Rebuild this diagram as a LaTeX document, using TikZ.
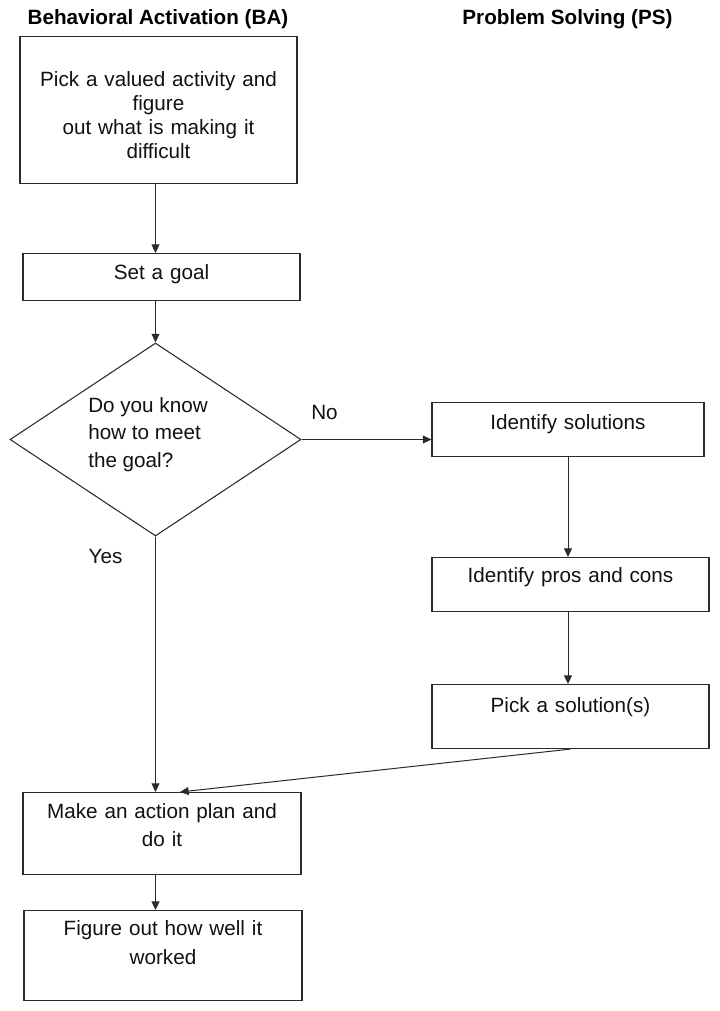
\documentclass[tikz,border=0pt]{standalone}
\usepackage{fontspec}
\setmainfont{Liberation Sans}
\usetikzlibrary{arrows.meta,calc,positioning,shapes.geometric}
\definecolor{flowink}{HTML}{111111}
\definecolor{flowline}{HTML}{2B2B2B}
\tikzset{
  flowbox/.style={draw=flowline,rectangle,line width=0.8pt,inner xsep=0pt,inner ysep=0pt,
    align=center,anchor=north,font=\fontsize{15.5}{18}\selectfont,text=flowink},
  decision/.style={draw=flowline,diamond,line width=0.8pt,inner sep=0pt,
    minimum width=218.25pt,minimum height=144.75pt},
  flowarrow/.style={draw=flowline,line width=0.75pt,-{Triangle[length=6.5pt,width=6pt]}},
  flowlabel/.style={font=\fontsize{15.5}{18}\selectfont,text=flowink,inner sep=0pt},
  lanetitle/.style={font=\fontsize{15.5}{18}\selectfont\bfseries,text=black,inner sep=0pt},
}

\begin{document}
\begin{tikzpicture}[x=0.75pt,y=-0.75pt]
  \path[use as bounding box] (0,0) rectangle (720,1011);
  \node[lanetitle,anchor=base] (batitle) at (158,24.5) {Behavioral Activation (BA)};
  \node[lanetitle,anchor=base] (pstitle) at (567.5,24.5) {Problem Solving (PS)};

  \node[flowbox,text width=207.75pt,text height=37.5pt,text depth=72.75pt] (pick) at (158.5,36)
    {Pick a valued activity and\\figure\\out what is making it\\difficult};
  \node[flowbox,text width=207.75pt,text height=19.5pt,text depth=15.75pt] (goal) at (161.5,253)
    {Set a goal};
  \node[decision] (ask) at (155.5,439.5) {};
  \node[flowlabel,anchor=west,align=left,font=\fontsize{15.5}{20.6}\selectfont] (askq) at (88,434.5)
    {Do you know\\how to meet\\the goal?};
  \node[flowlabel] (nolbl) at (324.5,412) {No};
  \node[flowlabel] (yeslbl) at (105.5,556) {Yes};

  \node[flowbox,text width=204pt,text height=19.875pt,text depth=20.625pt] (sols) at (568,402)
    {Identify solutions};
  \node[flowbox,text width=207.75pt,text height=18.75pt,text depth=21.75pt] (pros) at (570.5,557)
    {Identify pros and cons};
  \node[flowbox,text width=207.75pt,text height=21pt,text depth=27pt] (choose) at (570.5,684)
    {Pick a solution(s)};

  \node[flowbox,text width=208.5pt,text height=19.5pt,text depth=42pt,
    font=\fontsize{15.5}{21}\selectfont] (plan) at (162,792)
    {Make an action plan and\\do it};
  \node[flowbox,text width=208.5pt,text height=18.75pt,text depth=48.75pt,
    font=\fontsize{15.5}{21.75}\selectfont] (check) at (163,910)
    {Figure out how well it\\worked};

  \foreach \a/\b in {pick/goal,goal/ask,ask/plan,plan/check}
    {\draw[flowarrow] (\a.south -| ask.north) -- (\b.north -| ask.north);}
  \foreach \a/\b in {sols/pros,pros/choose}
    {\draw[flowarrow] (\a.south -| sols.south) -- (\b.north -| sols.south);}
  \draw[flowarrow] (ask.east) -- (ask.east -| sols.west);
  \draw[flowarrow] (choose.south) -- ([xshift=13.5pt]plan.north);
\end{tikzpicture}
\end{document}
